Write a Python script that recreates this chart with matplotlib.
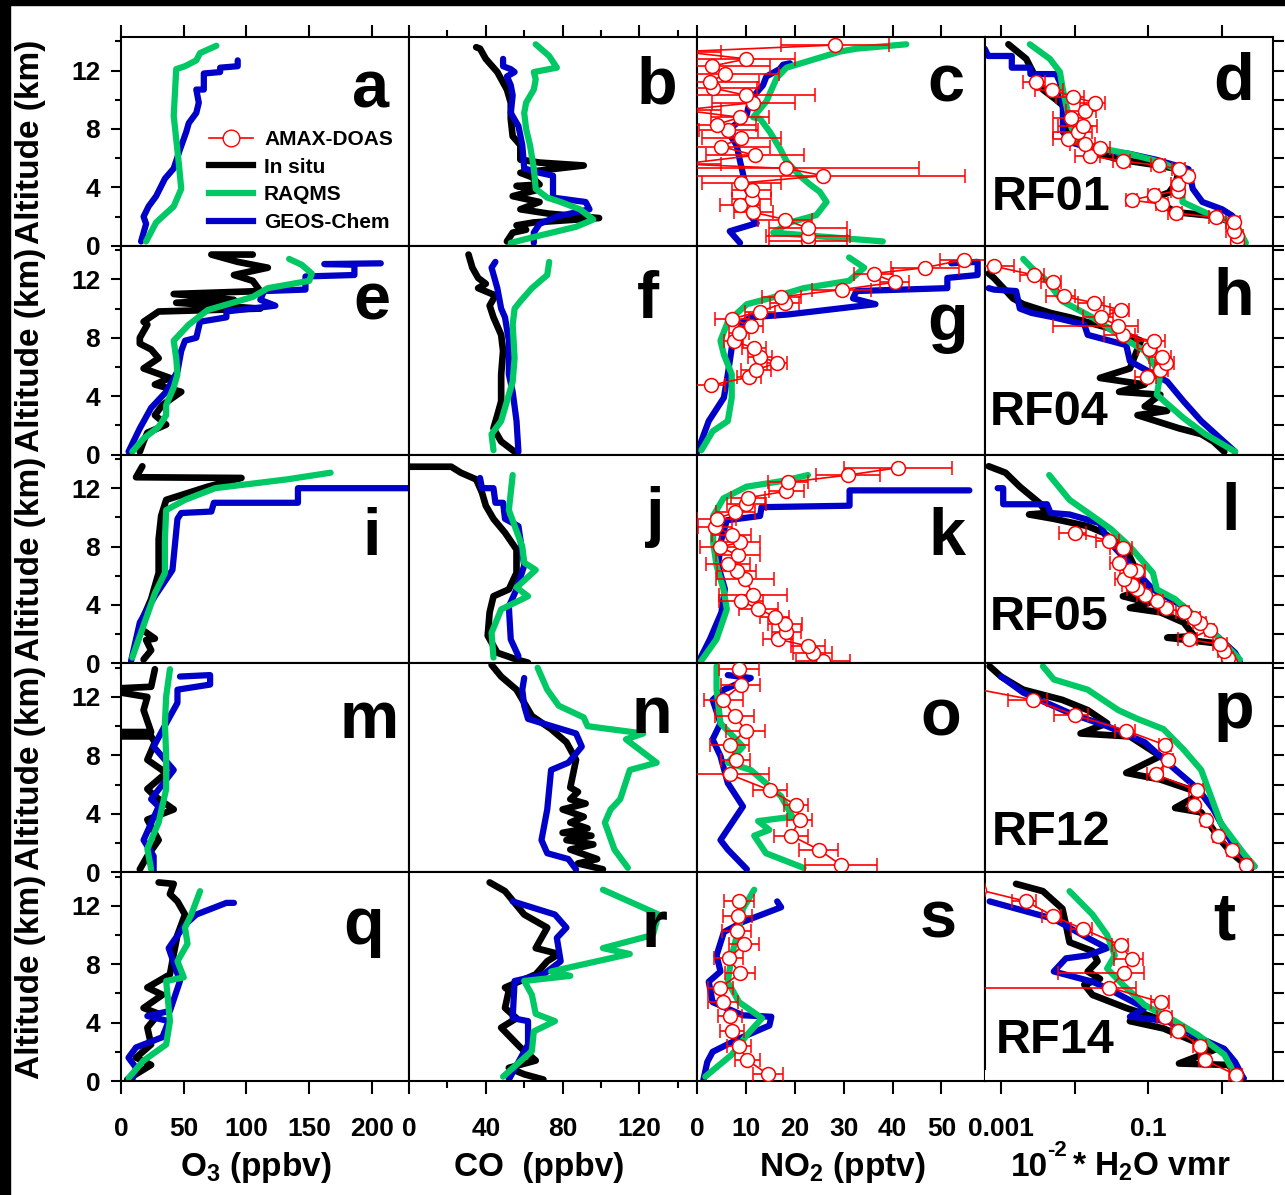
import numpy as np
import matplotlib
matplotlib.use('Agg')
import matplotlib.pyplot as plt
from matplotlib.lines import Line2D
from matplotlib.patches import Rectangle

plt.rcParams['font.family'] = ['Liberation Sans', 'DejaVu Sans']
plt.rcParams['font.weight'] = 'bold'
plt.rcParams['font.size'] = 19
plt.rcParams['mathtext.fontset'] = 'custom'
plt.rcParams['mathtext.rm'] = 'Liberation Sans:bold'
plt.rcParams['mathtext.it'] = 'Liberation Sans:bold'
plt.rcParams['mathtext.bf'] = 'Liberation Sans:bold'
plt.rcParams['axes.unicode_minus'] = False

# ---- data: (value, altitude km) and AMAX (value, altitude, error) ----
a_raqms = [(20, 0.3), (28, 1.6), (42, 2.7), (48, 3.9), (46, 5.7), (42, 8.9), (44, 12.1), (51, 12.3),
           (60, 12.7), (63, 13.2), (76, 13.7)]
a_geos = [(16, 0.3), (20, 1.5), (18, 2.0), (22, 2.7), (28, 3.4), (35, 4.6), (42, 5.3), (47, 6.6), (52, 7.8),
          (54, 8.4), (60, 9.1), (62, 9.8), (60, 10.7), (66, 10.7), (66, 11.8), (79, 11.9), (79, 12.2),
          (93, 12.3), (93, 12.7)]

b_insitu = [(51, 0.3), (54, 0.9), (61, 1.1), (56, 1.4), (65, 1.6), (99, 1.9), (73, 2.2), (58, 2.5), (68, 3.0),
            (54, 3.4), (66, 3.8), (56, 4.1), (68, 4.2), (64, 4.7), (58, 5.0), (91, 5.5), (68, 5.7), (58, 5.9),
            (58, 6.9), (54, 7.5), (53, 8.7), (53, 9.8), (51, 10.7), (46, 11.9), (40, 12.8), (37, 13.5),
            (35, 13.6)]
b_raqms = [(53, 0.2), (68, 0.7), (87, 1.3), (96, 1.8), (89, 2.5), (79, 3.0), (72, 3.3), (66, 3.9), (65, 5.3),
           (63, 6.9), (61, 8.0), (60, 9.1), (61, 9.8), (65, 10.7), (66, 11.4), (65, 11.9), (77, 12.2),
           (73, 13.0), (66, 13.8)]
b_geos = [(65, 0.2), (65, 0.9), (68, 1.5), (77, 2.0), (94, 2.5), (92, 3.0), (75, 3.3), (75, 4.8), (68, 5.0),
          (60, 5.3), (59, 6.9), (57, 8.2), (53, 9.1), (54, 10.3), (53, 11.0), (51, 11.6), (55, 11.9),
          (53, 12.1), (49, 12.3), (49, 12.8)]

c_amax = [(22.7, 0.3, 8), (22.7, 0.7, 8.5), (22.7, 1.2, 8), (18, 1.8, 5.5), (11.5, 2.3, 4), (8.8, 2.8, 4),
          (11.2, 3.2, 4), (11.2, 3.8, 4), (9.1, 4.3, 8), (25.8, 4.8, 29), (18.3, 5.3, 27), (-3, 5.6, 8),
          (11.8, 6.2, 10), (5, 6.8, 10), (9.1, 7.4, 8), (6.4, 7.9, 6), (4, 8.3, 8), (8.8, 8.8, 6),
          (-3, 9.3, 8), (11.5, 9.8, 8.5), (10.1, 10.3, 14), (3.3, 10.8, 9), (2.7, 11.2, 10), (5.7, 11.8, 11),
          (3, 12.3, 12), (10.1, 12.8, 10), (-3, 13.3, 8), (28.2, 13.75, 11)]
c_raqms = [(38, 0.3), (15.6, 0.9), (19, 1.6), (24.4, 2.1), (26.5, 3.0), (25.1, 3.7), (23.1, 4.2), (21, 4.8),
           (18.3, 5.8), (16.9, 6.7), (14.9, 7.8), (12.9, 8.7), (11.5, 8.8), (14.2, 9.9), (16.3, 11.5),
           (18.3, 12.2), (29.2, 13.3), (32.6, 13.5), (42.8, 13.8)]
c_geos = [(8.8, 0.2), (6.7, 1.0), (12.2, 1.55), (10.8, 2.1), (11.5, 3.0), (10.1, 3.9), (9.5, 4.8), (8.8, 5.8),
          (8.1, 6.9), (6.7, 7.6), (7.4, 8.2), (10.1, 8.9), (10.8, 9.9), (12.2, 10.5), (13.5, 11.0),
          (14.2, 11.6), (16.9, 12.1), (17.6, 12.4), (19, 12.5)]

d_insitu = [(1.7, 0.2), (1.38, 1.6), (0.74, 2.05), (0.24, 2.3), (0.17, 2.7), (0.14, 3.4), (0.19, 3.65),
            (0.236, 4.3), (0.26, 5.25), (0.103, 5.6), (0.041, 5.9), (0.0177, 6.4), (0.0105, 7.1),
            (0.0081, 7.8), (0.0086, 8.45), (0.0077, 9.4), (0.0056, 10.0), (0.0037, 10.7), (0.0029, 11.6),
            (0.0022, 12.8), (0.00126, 13.8)]
d_raqms = [(2.1, 0.2), (1.5, 1.6), (0.74, 2.05), (0.29, 3.0), (0.29, 3.9), (0.29, 5.0), (0.155, 5.7),
           (0.055, 6.3), (0.027, 6.6), (0.0105, 7.1), (0.0086, 8.45), (0.0069, 10.7), (0.0063, 11.9),
           (0.0046, 12.8), (0.00246, 13.8)]
d_geos = [(1.38, 2.05), (1.0, 2.5), (0.54, 3.0), (0.40, 3.9), (0.35, 5.25), (0.126, 5.9), (0.055, 6.3),
          (0.019, 6.6), (0.0086, 7.1), (0.0069, 7.8), (0.0069, 9.4), (0.0063, 11.2), (0.0056, 11.76),
          (0.0025, 11.76), (0.0025, 12.2), (0.0014, 12.2), (0.0014, 13.0), (0.00067, 13.0), (0.0006, 13.5)]
d_amax = [(1.6, 0.23, 0.3), (1.6, 0.68, 0.3), (1.44, 1.0, 0.3), (1.44, 1.6, 0.3), (0.82, 1.94, 0.15),
          (0.234, 2.24, 0.05), (0.155, 2.85, 0.03), (0.059, 3.13, 0.01), (0.12, 3.47, 0.02), (0.25, 3.77, 0.05),
          (0.25, 4.2, 0.05), (0.34, 4.8, 0.06), (0.26, 5.25, 0.05), (0.14, 5.5, 0.03), (0.045, 5.8, 0.012),
          (0.016, 6.16, 0.006), (0.022, 6.7, 0.008), (0.0137, 6.96, 0.005), (0.0081, 7.3, 0.003),
          (0.011, 7.76, 0.006), (0.0129, 8.2, 0.007), (0.009, 8.74, 0.004), (0.0137, 9.25, 0.006),
          (0.0187, 9.8, 0.007), (0.0095, 10.2, 0.004), (0.0049, 10.7, 0.002), (0.003, 11.2, 0.001)]

e_insitu = [(15, 0.2), (18, 0.9), (21, 1.5), (36, 2.05), (27, 2.7), (33, 3.4), (48, 4.3), (27, 4.8), (39, 5.25),
            (18, 5.9), (30, 6.6), (24, 7.2), (15, 7.6), (15, 8.0), (21, 8.9), (18, 9.1), (30, 9.8), (111, 10.0),
            (44, 10.4), (90, 10.6), (42, 11.0), (111, 11.2), (105, 11.9), (90, 12.3), (117, 12.8), (93, 13.2),
            (72, 13.7), (105, 13.7)]
e_raqms = [(9, 0.2), (18, 1.1), (30, 1.9), (36, 2.7), (36, 3.4), (42, 4.6), (45, 5.5), (44, 6.6), (42, 7.8),
           (54, 8.9), (69, 9.9), (105, 10.8), (117, 11.4), (150, 11.9), (152, 12.4), (144, 13.0), (134, 13.4)]
e_geos = [(6, 0.2), (15, 1.8), (24, 3.2), (36, 4.3), (45, 5.7), (48, 7.1), (51, 7.8), (60, 8.0), (63, 9.1),
          (84, 9.4), (84, 9.8), (123, 10.2), (111, 10.6), (114, 11.2), (147, 11.3), (147, 12.2), (186, 12.3),
          (186, 13.0), (162, 13.05), (207, 13.1)]

f_insitu = [(55, 0.2), (48, 0.9), (44, 1.8), (46, 2.7), (48, 3.65), (48, 5.5), (49, 7.1), (48, 8.2), (44, 9.4),
            (42, 10.2), (45, 10.9), (36, 11.4), (40, 11.7), (36, 12.1), (33, 12.8), (31, 13.7)]
f_raqms = [(44, 0.3), (43, 1.4), (48, 2.3), (51, 3.65), (54, 5.0), (55, 6.6), (54, 8.9), (55, 10.0), (58, 10.5),
           (64, 11.4), (72, 12.3), (73, 13.2)]
f_geos = [(57, 0.2), (56, 2.3), (54, 4.3), (52, 5.5), (52, 7.8), (50, 9.4), (48, 10.0), (46, 11.4), (43, 12.8),
          (45, 13.2)]

g_amax = [(2.8, 4.75, 3), (10.6, 5.3, 2.5), (12.1, 5.8, 3), (16.4, 6.3, 2), (12.9, 6.7, 2.5), (11.7, 7.3, 2.5),
          (7.5, 7.76, 2), (8.6, 8.3, 2), (11.0, 8.8, 2.5), (7.1, 9.3, 3.5), (12.9, 9.8, 3), (17.9, 10.4, 3),
          (17.2, 10.8, 4), (29.6, 11.3, 6), (40.4, 11.8, 3), (36.1, 12.4, 4), (46.6, 12.8, 7), (54.7, 13.36, 5)]
g_raqms = [(0.9, 0.3), (3.2, 1.6), (6.3, 2.3), (7.1, 3.9), (7.1, 5.5), (5.5, 6.85), (4.8, 7.8), (6.3, 9.1),
           (10.2, 10.3), (14.8, 10.7), (21.8, 11.4), (31.1, 11.9), (34.2, 12.8), (31.1, 13.5)]
g_geos = [(0.1, 0.2), (2.4, 2.3), (5.5, 3.9), (6.3, 5.5), (7.1, 7.3), (9.4, 9.1), (11, 9.4), (18.7, 9.6),
          (36.5, 10.3), (31.9, 10.7), (32.6, 11.2), (51.2, 11.4), (51.2, 12.1), (57.4, 12.3), (57.4, 13.2),
          (52, 13.1)]

h_insitu = [(1.07, 0.2), (0.76, 0.9), (0.52, 1.4), (0.26, 1.8), (0.071, 2.7), (0.18, 3.0), (0.089, 3.3),
            (0.145, 4.1), (0.04, 4.3), (0.089, 4.8), (0.022, 5.25), (0.056, 5.9), (0.079, 7.8), (0.0275, 8.7),
            (0.0085, 9.4), (0.0047, 9.7), (0.002, 10.3), (0.00145, 10.7), (0.0008, 12.1), (0.00068, 12.4)]
h_raqms = [(1.5, 0.2), (0.59, 1.4), (0.3, 2.5), (0.13, 4.1), (0.145, 5.5), (0.089, 7.1), (0.045, 8.0),
           (0.0174, 9.4), (0.0068, 10.5), (0.0042, 11.9), (0.0026, 12.8), (0.002, 13.4)]
h_geos = [(1.5, 0.2), (0.95, 1.1), (0.52, 2.3), (0.3, 3.65), (0.18, 5.0), (0.056, 6.4), (0.05, 7.5),
          (0.015, 8.2), (0.0135, 8.9), (0.0052, 9.4), (0.0026, 9.7), (0.0018, 10.0), (0.0016, 11.2),
          (0.0008, 11.3), (0.00068, 11.4)]
h_amax = [(0.095, 5.3, 0.03), (0.145, 5.8, 0.04), (0.174, 6.3, 0.05), (0.151, 6.7, 0.05), (0.102, 7.2, 0.03),
          (0.12, 7.76, 0.05), (0.045, 8.2, 0.02), (0.039, 8.8, 0.034), (0.023, 9.4, 0.01), (0.042, 9.9, 0.012),
          (0.018, 10.4, 0.007), (0.0071, 10.85, 0.003), (0.005, 11.8, 0.0015), (0.0028, 12.3, 0.001),
          (0.0008, 12.9, 0.0007)]

i_insitu = [(18, 0.27), (24, 0.9), (20, 1.6), (27, 1.7), (17, 2.3), (18, 3.2), (24, 4.4), (30, 6.2), (30, 8.5),
            (32, 10.1), (36, 11.2), (69, 12.1), (96, 12.7), (12, 12.75), (17, 13.5)]
i_raqms = [(9, 0.4), (18, 2.6), (27, 4.8), (35, 6.2), (35, 8.5), (36, 10.5), (51, 11.2), (75, 12.0),
           (132, 12.6), (167, 13.06)]
i_geos = [(8, 0.16), (15, 2.8), (27, 4.6), (41, 6.4), (45, 9.9), (48, 10.3), (72, 10.4), (74, 11.0),
          (141, 11.0), (141, 12.0), (230, 12.0)]

j_insitu = [(62, 0.05), (56, 0.27), (46, 0.73), (41, 1.9), (42, 3.5), (44, 4.6), (52, 5.07), (56, 6.2),
            (56, 7.8), (50, 8.95), (44, 9.9), (40, 10.8), (38, 11.7), (35, 12.6), (27, 13.06), (22, 13.47),
            (0, 13.47)]
j_raqms = [(44, 0.4), (43, 2.1), (48, 3.7), (62, 4.6), (56, 5.2), (66, 6.4), (60, 6.9), (59, 8.0), (52, 10.5),
           (54, 12.9)]
j_geos = [(57, 0.5), (53, 1.64), (52, 3.9), (56, 5.07), (60, 6.7), (57, 9.4), (50, 9.9), (49, 11.0), (45, 11.0),
          (44, 12.0), (38, 12.0), (37, 12.7)]

k_amax = [(25.8, 0.18, 5.5), (23.7, 0.68, 4), (22.7, 1.18, 3.5), (16.6, 1.66, 3), (18.3, 2.15, 3),
          (18, 2.67, 3.5), (15.9, 3.2, 3), (12.5, 3.73, 4), (9.1, 4.27, 4.5), (11.5, 4.7, 7), (9.8, 5.8, 6),
          (8.1, 6.3, 4), (6.4, 6.78, 4.5), (8.4, 7.4, 4.5), (4.7, 7.97, 4), (8.8, 8.3, 4), (7.1, 8.8, 4),
          (3.7, 9.37, 3.5), (4.0, 9.9, 4), (7.8, 10.36, 4), (10.1, 10.9, 4), (10.5, 11.35, 3.5),
          (18.3, 11.8, 3.5), (18.6, 12.4, 4), (30.9, 12.9, 6.5), (41.1, 13.4, 11)]
k_raqms = [(0.6, 0.05), (4, 1.66), (6.1, 3.7), (5.4, 5.1), (4, 6.7), (3.3, 8.3), (3.3, 10.1), (5.4, 11.3),
           (10.1, 12.1), (17.6, 12.5), (22.7, 12.9)]
k_geos = [(0.6, 0.3), (2.65, 1.66), (5, 3.5), (5.7, 5.1), (4.3, 6.7), (5, 8.5), (6.1, 9.8), (12.9, 10.1),
          (13.2, 10.7), (31.2, 10.8), (31.2, 11.85), (55.7, 11.85)]

l_insitu = [(1.62, 0.16), (1.35, 0.5), (0.76, 1.4), (0.18, 1.76), (0.42, 1.87), (0.3, 2.8), (0.145, 3.5),
            (0.056, 3.8), (0.102, 4.15), (0.045, 4.6), (0.089, 5.07), (0.071, 6.2), (0.05, 7.8),
            (0.0245, 8.95), (0.015, 9.4), (0.0052, 9.9), (0.0024, 10.2), (0.0042, 10.3), (0.0033, 11.0),
            (0.0018, 12.1), (0.00115, 13.06), (0.00068, 13.5)]
l_raqms = [(1.74, 0.27), (0.76, 2.1), (0.23, 4.4), (0.13, 5.07), (0.115, 6.2), (0.056, 8.0), (0.031, 9.2),
           (0.0174, 10.1), (0.0085, 11.2), (0.0045, 12.9)]
l_geos = [(1.74, 0.16), (1.5, 0.73), (0.76, 2.1), (0.3, 3.9), (0.115, 5.07), (0.071, 6.2), (0.0275, 8.5),
          (0.022, 9.6), (0.0085, 10.2), (0.0047, 10.3), (0.0042, 10.9), (0.00107, 10.9), (0.00107, 12.0),
          (0.0009, 12.0)]
l_amax = [(1.29, 0.1, 0.2), (1.2, 0.39, 0.2), (1.07, 0.84, 0.2), (0.95, 1.3, 0.2), (0.35, 1.64, 0.1),
          (0.68, 2.3, 0.1), (0.5, 2.8, 0.1), (0.42, 3.1, 0.08), (0.3, 3.5, 0.06), (0.174, 3.8, 0.04),
          (0.129, 4.27, 0.03), (0.089, 4.7, 0.02), (0.071, 5.07, 0.02), (0.059, 5.4, 0.015),
          (0.047, 5.75, 0.012), (0.071, 6.3, 0.02), (0.056, 6.4, 0.015), (0.04, 6.9, 0.01),
          (0.045, 7.9, 0.015), (0.0295, 8.4, 0.01), (0.0102, 8.95, 0.004)]

m_insitu = [(15, 0.2), (21, 1.1), (30, 2.2), (21, 3.6), (42, 4.3), (27, 5.2), (21, 5.7), (36, 6.8), (21, 7.7),
            (27, 8.9), (24, 9.3), (0, 9.3), (0, 9.6), (24, 9.6), (18, 11.1), (21, 12.0), (0, 12.3), (0, 12.6),
            (24, 12.7), (27, 13.9)]
m_raqms = [(24, 0.2), (21, 1.6), (30, 3.4), (36, 5.7), (36, 7.9), (35, 10.2), (36, 12.05), (39, 13.9)]
m_geos = [(26, 0.1), (26, 1.1), (18, 2.2), (30, 4.5), (24, 5.0), (42, 7.0), (26, 8.6), (36, 10.2), (45, 11.6),
          (45, 12.5), (71, 12.85), (71, 13.5), (47, 13.4)]

n_insitu = [(101, 0.2), (88, 0.6), (98, 0.9), (84, 1.55), (96, 1.9), (82, 2.2), (95, 2.5), (80, 2.7), (93, 3.0),
            (84, 3.4), (91, 3.8), (80, 4.3), (92, 4.7), (84, 5.0), (88, 5.5), (84, 5.8), (87, 7.7), (82, 8.9),
            (74, 9.8), (64, 10.7), (60, 11.6), (56, 12.5), (48, 13.4), (43, 14.2)]
n_raqms = [(114, 0.3), (107, 1.55), (102, 3.4), (105, 4.3), (110, 5.0), (115, 7.0), (129, 7.5), (113, 9.1),
           (122, 9.5), (93, 10.0), (91, 10.6), (78, 11.4), (72, 12.5), (67, 14.0)]
n_geos = [(87, 0.2), (83, 0.9), (72, 1.3), (69, 2.2), (72, 4.3), (74, 7.0), (83, 7.5), (90, 8.6), (87, 9.5),
          (62, 10.5), (60, 11.4), (59, 12.5), (60, 13.3)]

o_amax = [(29.5, 0.48, 7.4), (24.9, 1.55, 4), (19.3, 2.5, 3.5), (21, 3.6, 2.5), (20.3, 4.6, 2.5),
          (15, 5.6, 3.5), (6.7, 6.7, 8), (7.9, 7.7, 3), (6.7, 8.7, 4), (10, 9.7, 4), (7.7, 10.7, 4),
          (5.4, 11.8, 4), (8.9, 12.8, 4), (8.6, 13.9, 4)]
o_raqms = [(21.8, 0.3), (14.1, 1.3), (11.7, 2.5), (14.8, 2.9), (12.5, 3.5), (19.5, 3.8), (17.2, 5.2), (11, 7.0),
           (6.3, 7.5), (9.4, 8.6), (4.8, 10.2), (4, 12.5), (4, 14.1)]
o_geos = [(10.2, 0.2), (6.3, 1.55), (4.8, 2.2), (9.4, 4.5), (6.3, 6.1), (4.8, 7.95), (3.2, 9.1), (4.8, 10.2),
          (3.2, 11.8), (5.5, 12.5), (11, 13.3), (6.3, 13.5)]

p_insitu = [(2.45, 0.2), (1.35, 1.3), (0.95, 2.2), (0.52, 4.1), (0.23, 4.4), (0.52, 5.4), (0.145, 6.35),
            (0.05, 6.8), (0.145, 7.95), (0.056, 9.3), (0.012, 9.5), (0.0275, 10.2), (0.015, 11.1),
            (0.0068, 11.8), (0.002, 12.5), (0.001, 13.4), (0.0007, 14.1)]
p_raqms = [(2.75, 0.4), (1.95, 1.3), (0.95, 3.4), (0.68, 5.4), (0.52, 7.0), (0.3, 8.4), (0.16, 9.8),
           (0.071, 10.5), (0.039, 11.1), (0.015, 12.5), (0.0052, 13.2), (0.0037, 14.1)]
p_geos = [(2.75, 0.4), (1.35, 2.0), (0.76, 4.3), (0.47, 5.7), (0.2, 7.3), (0.089, 8.9), (0.0275, 10.0),
          (0.0085, 10.9), (0.002, 12.3), (0.001, 13.4)]
p_amax = [(2.14, 0.46, 0.3), (1.38, 1.55, 0.2), (0.87, 2.5, 0.12), (0.6, 3.6, 0.08), (0.41, 4.6, 0.06),
          (0.45, 5.6, 0.1), (0.126, 6.7, 0.03), (0.186, 7.67, 0.03), (0.17, 8.7, 0.03), (0.05, 9.7, 0.015),
          (0.0102, 10.75, 0.005), (0.00275, 11.8, 0.0015), (0.0004, 12.6, 0.0001)]

q_insitu = [(5, 0.1), (24, 1.1), (12, 1.6), (24, 2.5), (21, 3.65), (30, 4.6), (18, 5.0), (33, 5.9), (21, 6.4),
            (39, 7.3), (42, 8.7), (45, 10.0), (51, 11.4), (45, 12.3), (39, 12.8), (42, 13.5), (30, 13.6)]
q_raqms = [(6, 0.2), (18, 1.4), (36, 2.5), (39, 4.1), (36, 6.85), (50, 7.1), (45, 8.2), (53, 9.4), (51, 10.5),
           (56, 11.4), (63, 13.0)]
q_geos = [(9, 0.1), (12, 0.9), (6, 1.6), (12, 2.3), (33, 3.0), (38, 4.1), (21, 4.45), (39, 4.8), (47, 6.85),
          (38, 9.1), (51, 10.7), (60, 11.4), (84, 12.2), (90, 12.2)]

r_insitu = [(70, 0.1), (60, 0.46), (52, 0.9), (66, 1.4), (58, 2.3), (48, 3.65), (56, 4.3), (50, 5.0), (52, 6.2),
            (50, 6.4), (66, 7.3), (72, 8.2), (78, 8.7), (66, 9.1), (72, 10.5), (60, 11.4), (50, 13.0),
            (42, 13.6)]
r_raqms = [(49, 0.3), (64, 2.05), (65, 3.4), (76, 4.1), (66, 4.6), (64, 5.9), (60, 6.85), (84, 7.2), (74, 7.5),
           (115, 8.7), (101, 9.1), (127, 10.0), (130, 11.4), (101, 13.1)]
r_geos = [(52, 0.1), (62, 2.5), (62, 4.1), (54, 4.3), (55, 6.85), (70, 7.3), (79, 8.2), (77, 9.8), (82, 10.5),
          (76, 11.4), (54, 12.3)]

s_amax = [(14.5, 0.46, 3), (10.3, 1.44, 2.5), (8.6, 2.4, 2.5), (7.2, 3.45, 2.5), (6.7, 4.45, 2.5),
          (5.3, 5.4, 3), (4.8, 6.4, 2.5), (8.8, 7.37, 3), (6.5, 8.4, 3), (9.6, 9.36, 3), (8.1, 10.3, 3),
          (8.3, 11.3, 3), (8.6, 12.3, 3)]
s_raqms = [(1.7, 0.3), (7.1, 1.8), (10.2, 3.15), (13.3, 4.3), (8.6, 5.4), (6.3, 6.8), (7.1, 8.6), (8.6, 10.5),
           (9.4, 11.8), (11.7, 13.1)]
s_geos = [(1.3, 0.07), (2.1, 1.3), (3.2, 2.0), (8.6, 2.9), (14.8, 3.8), (15.2, 4.4), (9.4, 4.5), (3.2, 5.4),
          (2.4, 6.8), (4.8, 7.5), (4, 8.6), (5.5, 10.2), (9.4, 10.9), (17.2, 11.9), (16.4, 12.3)]

t_insitu = [(1.95, 0.18), (1.2, 1.1), (0.26, 1.2), (0.85, 2.2), (0.52, 2.5), (0.16, 3.6), (0.056, 4.1),
            (0.13, 4.3), (0.05, 5.0), (0.0174, 5.9), (0.0135, 6.6), (0.022, 7.0), (0.015, 7.5), (0.0204, 8.2),
            (0.0174, 8.9), (0.0085, 9.5), (0.0076, 10.7), (0.0068, 11.8), (0.0037, 13.0), (0.0016, 13.5)]
t_raqms = [(1.5, 0.41), (1.07, 1.8), (0.47, 3.15), (0.23, 4.1), (0.089, 5.2), (0.045, 6.6), (0.0275, 7.7),
           (0.035, 8.6), (0.0275, 10.0), (0.0174, 11.4), (0.0085, 13.0)]
t_geos = [(1.95, 0.18), (1.5, 1.3), (1.07, 2.2), (0.52, 2.9), (0.18, 4.1), (0.056, 4.4), (0.089, 5.0),
          (0.0275, 6.35), (0.0174, 6.8), (0.0052, 7.5), (0.0076, 8.4), (0.015, 8.6), (0.0275, 9.1),
          (0.015, 9.8), (0.0052, 11.1), (0.0007, 12.3)]
t_amax = [(1.55, 0.41, 0.3), (0.58, 1.44, 0.1), (0.5, 2.4, 0.1), (0.25, 3.45, 0.05), (0.17, 4.4, 0.04),
          (0.15, 5.4, 0.04), (0.0295, 6.4, 0.039), (0.046, 7.37, 0.04), (0.059, 8.36, 0.025),
          (0.042, 9.3, 0.01), (0.013, 10.4, 0.004), (0.0051, 11.3, 0.0015), (0.0022, 12.3, 0.0008),
          (0.0005, 13.1, 0.0001)]

panel_rows = ['abcd', 'efgh', 'ijkl', 'mnop', 'qrst']
flights = ['RF01', 'RF04', 'RF05', 'RF12', 'RF14']
series_names = ['insitu', 'geos', 'raqms', 'amax']
legend_labels = ['AMAX-DOAS', 'In situ', 'RAQMS', 'GEOS-Chem']
x_labels = [r'O$_3$ (ppbv)', 'CO  (ppbv)', r'NO$_2$ (pptv)']

# ---- styling / layout ----
W, H = 1285, 1195
GREEN = '#00c864'
BLUE = '#0000c8'
RED = '#ff0000'
colors = {'insitu': 'black', 'geos': BLUE, 'raqms': GREEN}
letter_pos = {'a': (371, 107), 'b': (657, 103), 'c': (946, 102), 'd': (1234, 100),
              'e': (372, 320), 'f': (648, 318), 'g': (948, 340), 'h': (1234, 315),
              'i': (372, 555), 'j': (655, 534), 'k': (947, 555), 'l': (1231, 530),
              'm': (369, 738), 'n': (652, 733), 'o': (941, 735), 'p': (1234, 728),
              'q': (364, 944), 'r': (654, 947), 's': (938, 938), 't': (1224, 940)}
rf_pos = [(992, 210), (990, 425), (990, 630), (992, 845), (996, 1053)]
xlab_pos = [256, 539, 842]
col_lims = [(0, 229.5), (0, 150), (0, 58.9), (6.06e-4, 4.9)]
YMAX = 14.3

fig = plt.figure(figsize=(W / 100, H / 100), dpi=100)
fig.patch.set_facecolor('white')
gs = fig.add_gridspec(5, 4, left=121 / W, right=1273 / W, bottom=1 - 1081 / H, top=1 - 37 / H,
                      hspace=0, wspace=0)

for r, row in enumerate(panel_rows):
    for c, letter in enumerate(row):
        ax = fig.add_subplot(gs[r, c])
        data = {k: globals().get(f'{letter}_{k}') for k in series_names}
        for name in ['insitu', 'geos', 'raqms']:
            pts = data[name]
            if pts is None:
                continue
            arr = np.array(pts, dtype=float)
            ax.plot(arr[:, 0], arr[:, 1], color=colors[name], lw=4.8 if name == 'insitu' else 4.5,
                    solid_joinstyle='round', solid_capstyle='round', zorder=2)
        if data['amax'] is not None:
            arr = np.array(data['amax'], dtype=float)
            ax.errorbar(arr[:, 0], arr[:, 1], xerr=arr[:, 2], color=RED, lw=1.2, elinewidth=1.2,
                        capsize=5, capthick=1.2, marker='o', ms=10, mfc='white', mec=RED, mew=1.1, zorder=5)

        if c == 3:
            ax.set_xscale('log')
        ax.set_xlim(*col_lims[c])
        ax.set_ylim(0, YMAX)

        for sp in ax.spines.values():
            sp.set_linewidth(1.5)
        if c == 3 and r == 4:
            ax.spines['left'].set_bounds(0.85, YMAX)

        # x ticks
        if c == 0:
            ax.set_xticks([0, 50, 100, 150, 200])
        elif c == 1:
            ax.set_xticks([0, 40, 80, 120])
            ax.set_xticks([20, 60, 100, 140], minor=True)
        elif c == 2:
            ax.set_xticks([0, 10, 20, 30, 40, 50])
        else:
            ax.set_xticks([1e-3, 1e-2, 1e-1, 1])
            ax.set_xticklabels(['0.001', '', '0.1', ''])
            ax.xaxis.set_minor_locator(plt.NullLocator())
        ax.tick_params(axis='x', which='both', direction='out', top=(r == 0), bottom=True,
                       labelbottom=(r == 4), width=1.5, pad=17)
        ax.tick_params(axis='x', which='major', length=9)
        ax.tick_params(axis='x', which='minor', length=5)

        # y ticks
        ax.set_yticks([0, 4, 8, 12])
        ax.set_yticks([2, 6, 10, 14], minor=True)
        ax.tick_params(axis='y', which='both', direction='out', left=(c == 0), right=(c == 3),
                       labelleft=(c == 0), labelright=False, width=1.5, pad=8)
        ax.tick_params(axis='y', which='major', length=7 if c == 0 else 8)
        ax.tick_params(axis='y', which='minor', length=4 if c == 0 else 8)

        lx, ly = letter_pos[letter]
        fig.text(lx / W, 1 - ly / H, letter, fontsize=48, fontweight='bold', ha='center', va='baseline')

        if r == 0 and c == 0:
            handles = [Line2D([], [], color=RED, lw=1.2, marker='o', ms=12, mfc='white', mec=RED),
                       Line2D([], [], color='black', lw=4.5),
                       Line2D([], [], color=GREEN, lw=4.5),
                       Line2D([], [], color=BLUE, lw=4.5)]
            ax.legend(handles, legend_labels, loc='upper left', bbox_to_anchor=(0.305, 0.555),
                      frameon=False, fontsize=15, borderpad=0, borderaxespad=0, handlelength=2.1,
                      handletextpad=0.55, labelspacing=0.42)

    fx, fy = rf_pos[r]
    fig.text(fx / W, 1 - fy / H, flights[r], fontsize=35, fontweight='bold', ha='left', va='baseline')
    yc = 37 + (r + 0.5) * (1081 - 37) / 5
    fig.text(31 / W, 1 - yc / H, 'Altitude (km)', fontsize=24, fontweight='bold', rotation=90,
             ha='center', va='center')

for c in range(3):
    fig.text(xlab_pos[c] / W, 1 - 1176 / H, x_labels[c], fontsize=24, fontweight='bold',
             ha='center', va='baseline')

# water vapour label built from pieces so the exponent keeps a plain hyphen
fig.text(1011 / W, 1 - 1176 / H, '10', fontsize=24, fontweight='bold', ha='left', va='baseline')
fig.text(1047 / W, 1 - 1156 / H, '-2', fontsize=16, fontweight='bold', ha='left', va='baseline')
fig.text(1072 / W, 1 - 1176 / H, r'* H$_2$O vmr', fontsize=24, fontweight='bold', ha='left', va='baseline')

# dark frame on left and top edges of the original image
fig.patches.append(Rectangle((0, 0), 10 / W, 1, transform=fig.transFigure, color='black', zorder=10))
fig.patches.append(Rectangle((0, 1 - 5 / H), 1, 5 / H, transform=fig.transFigure, color='black', zorder=10))

fig.savefig('out.png', dpi=100)
